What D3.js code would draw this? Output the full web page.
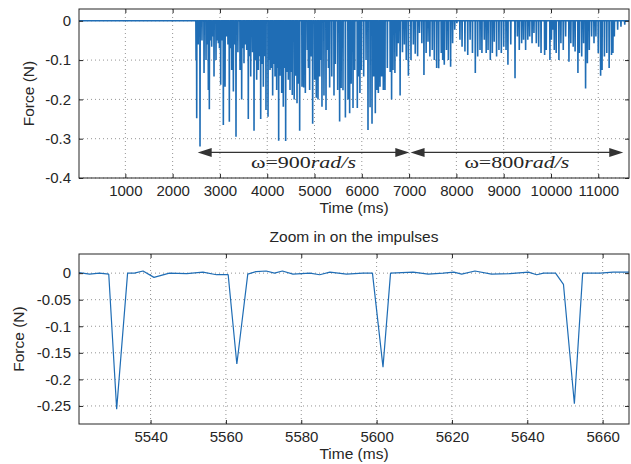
<!DOCTYPE html>
<html>
<head>
<meta charset="utf-8">
<script src="https://cdn.jsdelivr.net/npm/d3@7"></script>
<style>
  body { margin: 0; background: #fff; }
  text { font-family: "Liberation Sans", Arial, sans-serif; fill: #262626; }
</style>
</head>
<body>
<svg id="chart" width="631" height="464"></svg>
<script>
// full recording: impulse times (ms) and their minimum force (N)
const topTimes = [
  2495, 2509, 2540, 2579, 2620, 2664, 2706, 2730, 2755, 2776, 2800, 2826, 2850, 2875, 2917, 2945,
  2967, 2990, 3016, 3045, 3072, 3108, 3143, 3170, 3199, 3225, 3249, 3284, 3310, 3340, 3380, 3425,
  3460, 3485, 3509, 3540, 3566, 3600, 3625, 3651, 3690, 3721, 3750, 3777, 3812, 3840, 3862, 3890,
  3918, 3945, 3974, 4017, 4040, 4059, 4090, 4115, 4140, 4165, 4200, 4222, 4242, 4270, 4306, 4340,
  4365, 4390, 4420, 4446, 4482, 4510, 4530, 4570, 4600, 4630, 4660, 4686, 4735, 4770, 4806, 4848,
  4870, 4897, 4930, 4961, 5003, 5038, 5074, 5109, 5135, 5158, 5200, 5243, 5270, 5295, 5320, 5365,
  5412, 5440, 5490, 5531, 5563, 5602, 5653, 5708, 5743, 5775, 5814, 5850, 5905, 5935, 5960, 5990,
  6040, 6090, 6131, 6175, 6216, 6250, 6286, 6320, 6350, 6385, 6420, 6455, 6490, 6540, 6600, 6630,
  6660, 6700, 6740, 6770, 6810, 6860, 6900, 6940, 6985, 7040, 7090, 7130, 7180, 7220, 7270, 7314,
  7360, 7400, 7440, 7490, 7533, 7583, 7626, 7680, 7710, 7744, 7790, 7830, 7878, 7920, 7965, 8010,
  8075, 8120, 8181, 8240, 8290, 8340, 8400, 8450, 8500, 8540, 8590, 8630, 8670, 8717, 8760, 8800,
  8850, 8900, 8950, 9000, 9050, 9090, 9150, 9240, 9290, 9330, 9380, 9420, 9464, 9510, 9550, 9600,
  9640, 9690, 9740, 9790, 9866, 9900, 9978, 10010, 10040, 10070, 10110, 10168, 10210, 10260, 10310, 10380,
  10420, 10470, 10510, 10570, 10600, 10650, 10690, 10732, 10770, 10810, 10860, 10910, 10950, 11000, 11050, 11080,
  11130, 11180, 11230, 11280, 11310, 11340, 11410, 11480, 11560
];
const topForces = [
  -0.10, -0.248, -0.06, -0.32, -0.05, -0.133, -0.10, -0.06, -0.176, -0.225, -0.05, -0.066, -0.04, -0.142, -0.10, -0.05,
  -0.057, -0.07, -0.163, -0.05, -0.265, -0.168, -0.04, -0.06, -0.257, -0.07, -0.125, -0.18, -0.06, -0.295, -0.08, -0.125,
  -0.20, -0.07, -0.108, -0.06, -0.074, -0.25, -0.09, -0.142, -0.08, -0.28, -0.10, -0.15, -0.125, -0.09, -0.25, -0.11,
  -0.168, -0.09, -0.227, -0.244, -0.10, -0.125, -0.12, -0.19, -0.11, -0.142, -0.176, -0.12, -0.305, -0.14, -0.184, -0.219,
  -0.12, -0.306, -0.13, -0.15, -0.176, -0.13, -0.189, -0.20, -0.14, -0.21, -0.16, -0.28, -0.168, -0.17, -0.184, -0.074,
  -0.12, -0.176, -0.091, -0.262, -0.15, -0.196, -0.20, -0.142, -0.10, -0.219, -0.19, -0.227, -0.074, -0.12, -0.17, -0.142,
  -0.19, -0.11, -0.176, -0.256, -0.171, -0.177, -0.246, -0.20, -0.235, -0.16, -0.222, -0.125, -0.222, -0.142, -0.184, -0.125,
  -0.142, -0.10, -0.278, -0.22, -0.262, -0.142, -0.235, -0.176, -0.184, -0.168, -0.142, -0.176, -0.176, -0.12, -0.13, -0.20,
  -0.125, -0.133, -0.091, -0.057, -0.19, -0.08, -0.06, -0.10, -0.14, -0.10, -0.06, -0.084, -0.09, -0.031, -0.057, -0.138,
  -0.082, -0.053, -0.091, -0.074, -0.10, -0.12, -0.121, -0.082, -0.10, -0.112, -0.074, -0.10, -0.117, -0.057, -0.023, -0.006,
  -0.048, -0.066, -0.078, -0.087, -0.048, -0.082, -0.133, -0.091, -0.074, -0.082, -0.048, -0.082, -0.074, -0.10, -0.082, -0.053,
  -0.091, -0.074, -0.082, -0.066, -0.074, -0.112, -0.06, -0.146, -0.04, -0.074, -0.057, -0.048, -0.074, -0.048, -0.04, -0.057,
  -0.031, -0.057, -0.066, -0.082, -0.087, -0.074, -0.10, -0.048, -0.023, -0.074, -0.082, -0.10, -0.057, -0.074, -0.04, -0.104,
  -0.057, -0.066, -0.078, -0.133, -0.082, -0.091, -0.057, -0.172, -0.108, -0.074, -0.04, -0.057, -0.04, -0.082, -0.14, -0.125,
  -0.091, -0.082, -0.12, -0.087, -0.082, -0.04, -0.023, -0.015, -0.01
];

// zoom on four impulses: samples (ms, N)
const zoomTimes = [
  5521, 5523.8, 5526.4, 5528.9, 5531, 5533.9, 5535.7, 5538, 5540.9, 5545, 5549.6, 5553.9, 5557.5, 5560.6,
  5562.9, 5565.8, 5568, 5570.7, 5572.9, 5575, 5577.8, 5582.3, 5584.9, 5587.6, 5592, 5596.4, 5598.9, 5601.7,
  5603.7, 5609.7, 5613.7, 5617.7, 5620.5, 5622.6, 5626.1, 5630.5, 5635.4, 5640.3, 5642.5, 5644.3, 5647.5,
  5649.6, 5652.5, 5654.7, 5659.3, 5662.8, 5667
];
const zoomForces = [
  0.001, -0.002, 0, -0.002, -0.256, 0, 0, 0.004, -0.008, 0, -0.001, 0.002, -0.003, -0.003,
  -0.171, -0.002, 0.003, 0.004, 0, 0.004, -0.002, 0, -0.003, 0.002, -0.002, 0, 0, -0.177,
  0, 0.002, -0.002, 0, 0.002, -0.002, 0.004, -0.002, -0.001, 0.002, -0.003, 0, 0,
  -0.021, -0.246, 0, 0, 0.002, 0.002
];

const topXTicks = [1000, 2000, 3000, 4000, 5000, 6000, 7000, 8000, 9000, 10000, 11000];
const topYTicks = [0, -0.1, -0.2, -0.3, -0.4];
const zoomXTicks = [5540, 5560, 5580, 5600, 5620, 5640, 5660];
const zoomYTicks = [0, -0.05, -0.1, -0.15, -0.2, -0.25];

// speed phases shown with double arrows
const phaseLabels = ["900", "800"];
const phaseStarts = [2530, 7031];
const phaseEnds = [7004, 11528];
const arrowForce = -0.335;

const lineColor = "#1f6db5";
const axisColor = "#262626";

const svg = d3.select("#chart");

function drawPanel({ left, top, width, height, xDomain, yDomain, xTicks, yTicks, points, lineWidth, xLabelY, yLabelX }) {
  const x = d3.scaleLinear().domain(xDomain).range([0, width]);
  const y = d3.scaleLinear().domain(yDomain).range([height, 0]);
  const g = svg.append("g").attr("transform", "translate(" + left + "," + top + ")");

  const clipId = "clip" + top;
  g.append("clipPath").attr("id", clipId)
    .append("rect").attr("width", width).attr("height", height);

  // dotted grid
  g.selectAll(".gx").data(xTicks).enter().append("line")
    .attr("x1", d => x(d)).attr("x2", d => x(d))
    .attr("y1", 0).attr("y2", height)
    .attr("stroke", "#888").attr("stroke-width", 0.9).attr("stroke-dasharray", "1,3");
  g.selectAll(".gy").data(yTicks).enter().append("line")
    .attr("x1", 0).attr("x2", width)
    .attr("y1", d => y(d)).attr("y2", d => y(d))
    .attr("stroke", "#888").attr("stroke-width", 0.9).attr("stroke-dasharray", "1,3");

  const line = d3.line().x(d => x(d[0])).y(d => y(d[1]));
  g.append("path")
    .datum(points)
    .attr("clip-path", "url(#" + clipId + ")")
    .attr("fill", "none")
    .attr("stroke", lineColor)
    .attr("stroke-width", lineWidth)
    .attr("stroke-linejoin", "bevel")
    .attr("d", line);

  const fmt = d => String(d);
  g.append("g").attr("transform", "translate(0," + height + ")")
    .call(d3.axisBottom(x).tickValues(xTicks).tickSize(-4).tickPadding(7).tickFormat(fmt));
  g.append("g")
    .call(d3.axisLeft(y).tickValues(yTicks).tickSize(-4).tickPadding(8).tickFormat(fmt));
  g.append("g").call(d3.axisTop(x).tickValues(xTicks).tickSize(-4).tickFormat(""));
  g.append("g").attr("transform", "translate(" + width + ",0)")
    .call(d3.axisRight(y).tickValues(yTicks).tickSize(-4).tickFormat(""));

  g.selectAll(".domain").remove();
  g.selectAll(".tick line").attr("stroke", axisColor);
  g.selectAll(".tick text")
    .style("font-family", "\"Liberation Sans\", Arial, sans-serif")
    .style("font-size", "15px").attr("fill", axisColor);

  g.append("rect")
    .attr("width", width).attr("height", height)
    .attr("fill", "none").attr("stroke", axisColor).attr("stroke-width", 1);

  g.append("text")
    .attr("x", width / 2).attr("y", xLabelY)
    .attr("text-anchor", "middle").style("font-size", "15.5px")
    .text("Time (ms)");
  g.append("text")
    .attr("transform", "translate(" + yLabelX + "," + height / 2 + ") rotate(-90)")
    .attr("text-anchor", "middle").style("font-size", "15.5px")
    .text("Force (N)");

  return { g, x, y };
}

// top panel: build the trace from the impulse list
const topPoints = [[20, 0]];
topTimes.forEach((t, i) => {
  topPoints.push([t - 4, 0], [t, topForces[i]], [t + 4, 0]);
});
topPoints.push([11650, 0]);

const topPanel = drawPanel({
  left: 79, top: 9, width: 550, height: 169,
  xDomain: [20, 11650], yDomain: [-0.4, 0.03],
  xTicks: topXTicks, yTicks: topYTicks,
  points: topPoints, lineWidth: 1.6, xLabelY: 204, yLabelX: -45
});

// double arrows with omega labels
const arrowColor = "#333333";
phaseLabels.forEach((label, i) => {
  const x0 = topPanel.x(phaseStarts[i]);
  const x1 = topPanel.x(phaseEnds[i]);
  const ay = topPanel.y(arrowForce);
  const g = topPanel.g;
  g.append("line")
    .attr("x1", x0 + 6).attr("x2", x1 - 6)
    .attr("y1", ay).attr("y2", ay)
    .attr("stroke", arrowColor).attr("stroke-width", 1.3);
  g.append("path")
    .attr("d", "M" + x0 + "," + ay + "L" + (x0 + 14) + "," + (ay - 4.5) + "L" + (x0 + 14) + "," + (ay + 4.5) + "Z")
    .attr("fill", arrowColor);
  g.append("path")
    .attr("d", "M" + x1 + "," + ay + "L" + (x1 - 14) + "," + (ay - 4.5) + "L" + (x1 - 14) + "," + (ay + 4.5) + "Z")
    .attr("fill", arrowColor);
  const t = g.append("text")
    .attr("x", (x0 + x1) / 2).attr("y", ay + 15.5)
    .attr("text-anchor", "middle")
    .attr("textLength", 105).attr("lengthAdjust", "spacingAndGlyphs")
    .style("font-family", "\"Liberation Serif\", \"DejaVu Serif\", serif")
    .style("font-size", "17.5px");
  t.append("tspan").text("\u03c9=" + label);
  t.append("tspan").style("font-style", "italic").text("rad/s");
});

// bottom panel
const zoomPoints = zoomTimes.map((t, i) => [t, zoomForces[i]]);
const zoomPanel = drawPanel({
  left: 79, top: 254, width: 550, height: 170,
  xDomain: [5521, 5667], yDomain: [-0.284, 0.036],
  xTicks: zoomXTicks, yTicks: zoomYTicks,
  points: zoomPoints, lineWidth: 1.2, xLabelY: 205, yLabelX: -55
});

zoomPanel.g.append("text")
  .attr("x", 275).attr("y", -12)
  .attr("text-anchor", "middle").style("font-size", "15.5px")
  .text("Zoom in on the impulses");
</script>
</body>
</html>
